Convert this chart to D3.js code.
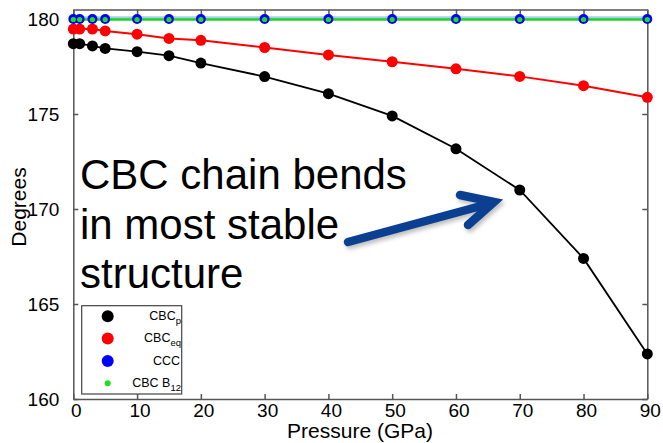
<!DOCTYPE html>
<html>
<head>
<meta charset="utf-8">
<script src="https://cdn.jsdelivr.net/npm/d3@7"></script>
<style>
  body { margin: 0; background: #fff; }
  svg { display: block; font-family: "Liberation Sans", Arial, Helvetica, sans-serif; }
</style>
</head>
<body>
<svg id="chart" width="663" height="443"></svg>
<script>
// values
const pressure = [0, 1, 3, 5, 10, 15, 20, 30, 40, 50, 60, 70, 80, 90];
const cbcP = [178.7, 178.7, 178.58, 178.45, 178.28, 178.07, 177.68, 176.97, 176.07, 174.9, 173.17, 171.0, 167.4, 162.37];
const cbcEq = [179.47, 179.47, 179.47, 179.37, 179.2, 178.98, 178.88, 178.5, 178.11, 177.75, 177.38, 176.98, 176.49, 175.88];
const ccc = [180, 180, 180, 180, 180, 180, 180, 180, 180, 180, 180, 180, 180, 180];
const cbcB12 = [180, 180, 180, 180, 180, 180, 180, 180, 180, 180, 180, 180, 180, 180];
const xTicks = [0, 10, 20, 30, 40, 50, 60, 70, 80, 90];
const yTicks = [160, 165, 170, 175, 180];
const noteLines = ["CBC chain bends", "in most stable", "structure"];

const svg = d3.select("#chart");
const frame = "#555";

const x = d3.scaleLinear().domain([0, 90]).range([73.3, 647.3]);
const y = d3.scaleLinear().domain([160, 180.5]).range([399, 9.5]);

// frame + ticks (all ticks point inward)
svg.append("g").attr("transform", "translate(0,399)")
  .call(d3.axisBottom(x).tickValues(xTicks).tickSizeInner(-5).tickSizeOuter(0).tickPadding(5))
  .call(g => g.selectAll("text").attr("font-size", 19).attr("dx", 2.5).attr("fill", "#000"));
svg.append("g").attr("transform", "translate(0,9.5)")
  .call(d3.axisTop(x).tickValues(xTicks).tickSizeInner(-5).tickSizeOuter(0).tickFormat(""));
svg.append("g").attr("transform", "translate(73.3,0)")
  .call(d3.axisLeft(y).tickValues(yTicks).tickSizeInner(-5).tickSizeOuter(0).tickPadding(14))
  .call(g => g.selectAll("text").attr("font-size", 19).attr("fill", "#000"));
svg.append("g").attr("transform", "translate(647.3,0)")
  .call(d3.axisRight(y).tickValues(yTicks).tickSizeInner(-5).tickSizeOuter(0).tickFormat(""));
svg.selectAll(".domain, .tick line").attr("stroke", frame).attr("stroke-width", 1.5);

// axis titles
svg.append("text").attr("x", 360).attr("y", 438).attr("text-anchor", "middle")
  .attr("font-size", 21).text("Pressure (GPa)");
svg.append("text").attr("transform", "translate(26,207) rotate(-90)").attr("text-anchor", "middle")
  .attr("font-size", 21).text("Degrees");

// series
const series = [
  { vals: cbcP, line: "#000", width: 1.8, fill: "#000", r: 5.5 },
  { vals: cbcEq, line: "#ff0000", width: 2, fill: "#ff0000", r: 5.5 },
];
const line = d3.line().x((d, i) => x(pressure[i])).y(d => y(d));

svg.append("path").datum(ccc).attr("d", line).attr("fill", "none")
  .attr("stroke", "#a9cdf5").attr("stroke-width", 3).attr("transform", "translate(0,-1.2)");
svg.append("path").datum(cbcB12).attr("d", line).attr("fill", "none")
  .attr("stroke", "#1fd41f").attr("stroke-width", 2.5).attr("transform", "translate(0,0.5)");

series.forEach(s => {
  svg.append("path").datum(s.vals).attr("d", line).attr("fill", "none")
    .attr("stroke", s.line).attr("stroke-width", s.width);
  svg.append("g").selectAll("circle").data(s.vals).join("circle")
    .attr("cx", (d, i) => x(pressure[i])).attr("cy", d => y(d))
    .attr("r", s.r).attr("fill", s.fill);
});

svg.append("g").selectAll("circle").data(ccc).join("circle")
  .attr("cx", (d, i) => x(pressure[i])).attr("cy", d => y(d))
  .attr("r", 5).attr("fill", "#0000ff");
svg.append("g").selectAll("circle").data(cbcB12).join("circle")
  .attr("cx", (d, i) => x(pressure[i])).attr("cy", d => y(d) + 0.5)
  .attr("r", 2.6).attr("fill", "#1fe01f");

// legend
const legend = svg.append("g");
legend.append("rect").attr("x", 81.7).attr("y", 305.7).attr("width", 100).attr("height", 88.3)
  .attr("fill", "#fff").attr("stroke", "#444").attr("stroke-width", 1.2);
const legItems = [
  { name: "CBC", sub: "p", color: "#000", r: 6 },
  { name: "CBC", sub: "eq", color: "#ff0000", r: 6 },
  { name: "CCC", sub: "", color: "#0000ff", r: 6 },
  { name: "CBC B", sub: "12", color: "#1fe01f", r: 3 },
];
legItems.forEach((d, i) => {
  const cy = 316.3 + i * 22.3;
  legend.append("circle").attr("cx", 107.7).attr("cy", cy).attr("r", d.r).attr("fill", d.color);
  const t = legend.append("text").attr("x", d.sub ? 181 : 180).attr("y", cy + 3.8)
    .attr("text-anchor", "end").attr("font-size", 12.5);
  t.append("tspan").text(d.name);
  if (d.sub) t.append("tspan").attr("dy", 4).attr("font-size", 9.5).text(d.sub);
});

// annotation
const note = svg.append("text").attr("font-size", 42).attr("fill", "#000");
noteLines.forEach((s, i) => {
  note.append("tspan").attr("x", 80).attr("y", 189 + i * 49.5).text(s);
});

const defs = svg.append("defs");
const blur = defs.append("filter").attr("id", "shadow").attr("x", "-20%").attr("y", "-50%")
  .attr("width", "140%").attr("height", "200%");
blur.append("feGaussianBlur").attr("stdDeviation", 2);

const arrowPath = "M348,242 L492,203 M460,195 L494,202 L468,225";
svg.append("path").attr("d", arrowPath).attr("fill", "none").attr("stroke", "#888")
  .attr("stroke-opacity", 0.55).attr("stroke-width", 8.5).attr("stroke-linecap", "round")
  .attr("transform", "translate(2,3)").attr("filter", "url(#shadow)");
svg.append("path").attr("d", arrowPath).attr("fill", "none").attr("stroke", "#0b3f91")
  .attr("stroke-width", 8.5).attr("stroke-linecap", "round").attr("stroke-linejoin", "miter");
</script>
</body>
</html>
